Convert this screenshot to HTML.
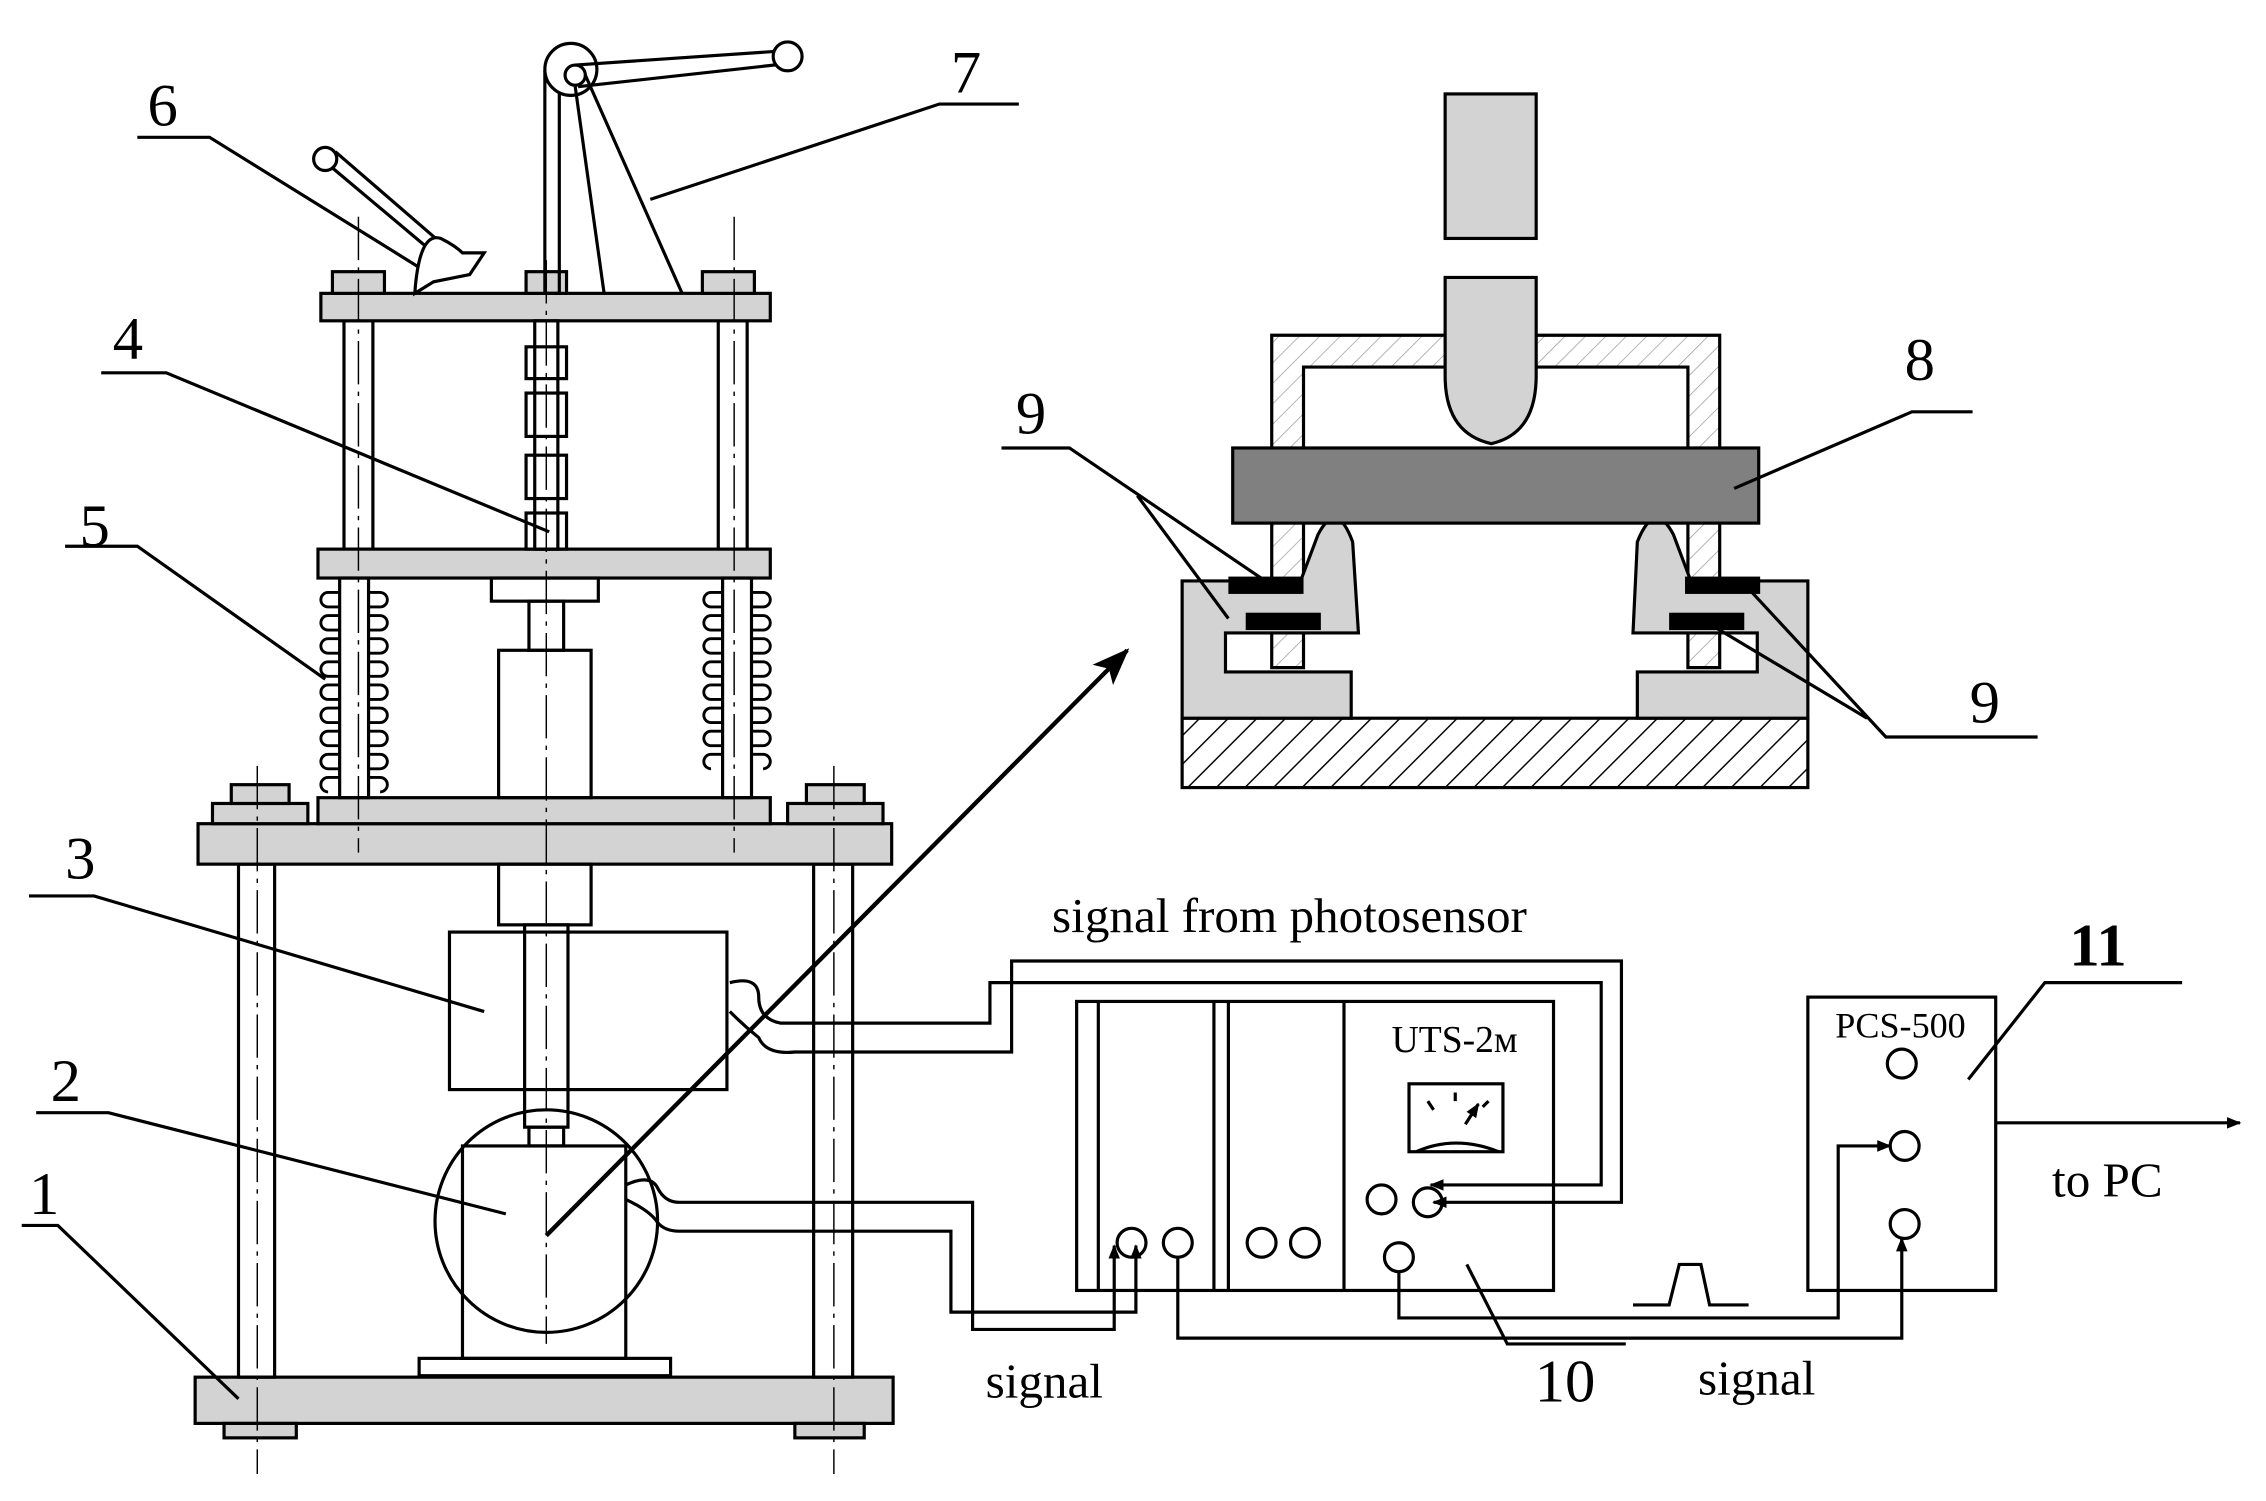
<!DOCTYPE html>
<html><head><meta charset="utf-8"><style>html,body{margin:0;padding:0;background:#fff}svg{display:block}text{font-family:"Liberation Serif",serif;fill:#000}</style></head><body>
<svg width="2266" height="1501" viewBox="0 0 1568 1038.7" xmlns="http://www.w3.org/2000/svg">
<defs>
<pattern id="h" width="14" height="14" patternUnits="userSpaceOnUse" patternTransform="rotate(45)"><rect width="14" height="14" fill="#fff"/><line x1="0" y1="0" x2="0" y2="14" stroke="#000" stroke-width="2"/></pattern>
<pattern id="hl" width="10" height="10" patternUnits="userSpaceOnUse" patternTransform="rotate(45)"><rect width="10" height="10" fill="#fff"/><line x1="0" y1="0" x2="0" y2="10" stroke="#999" stroke-width="1"/></pattern>
<marker id="a" markerWidth="10" markerHeight="10" refX="9" refY="5" orient="auto" markerUnits="userSpaceOnUse"><path d="M0,1 L10,5 L0,9 Z" fill="#000"/></marker>
<marker id="b" markerWidth="26" markerHeight="20" refX="24" refY="10" orient="auto" markerUnits="userSpaceOnUse"><path d="M0,0 L26,10 L0,20 L6,10 Z" fill="#000"/></marker>
</defs>
<g stroke="#000" stroke-width="2.2" fill="none">
<rect x="135" y="953" width="483" height="32" fill="#d3d3d3"/>
<rect x="155" y="985" width="50" height="10" fill="#d3d3d3"/>
<rect x="550" y="985" width="48" height="10" fill="#d3d3d3"/>
<rect x="165" y="598" width="25" height="355"/>
<rect x="563" y="598" width="27" height="355"/>
<rect x="137" y="570" width="480" height="28" fill="#d3d3d3"/>
<rect x="147" y="556" width="66" height="14" fill="#d3d3d3"/><rect x="160" y="543" width="40" height="13" fill="#d3d3d3"/>
<rect x="545" y="556" width="66" height="14" fill="#d3d3d3"/><rect x="558" y="543" width="40" height="13" fill="#d3d3d3"/>
<rect x="220" y="552" width="313" height="18" fill="#d3d3d3"/>
<rect x="238" y="222" width="20" height="158"/><rect x="497" y="222" width="20" height="158"/>
<rect x="220" y="380" width="313" height="20" fill="#d3d3d3"/>
<rect x="222" y="203" width="311" height="19" fill="#d3d3d3"/>
<rect x="230" y="188" width="36" height="15" fill="#d3d3d3"/><rect x="486" y="188" width="36" height="15" fill="#d3d3d3"/><rect x="364" y="188" width="28" height="15" fill="#d3d3d3"/>
<rect x="235" y="400" width="20" height="152"/><rect x="500" y="400" width="20" height="152"/>
<g stroke-width="2">
<path d="M235,410 h-8 a5,5 0 0 0 0,10 h8 m0,6 h-8 a5,5 0 0 0 0,10 h8 m0,6 h-8 a5,5 0 0 0 0,10 h8 m0,6 h-8 a5,5 0 0 0 0,10 h8 m0,6 h-8 a5,5 0 0 0 0,10 h8 m0,6 h-8 a5,5 0 0 0 0,10 h8 m0,6 h-8 a5,5 0 0 0 0,10 h8 m0,6 h-8 a5,5 0 0 0 0,10 h8 m0,6 h-8 a5,5 0 0 0 0,10"/>
<path d="M255,410 h8 a5,5 0 0 1 0,10 h-8 m0,6 h8 a5,5 0 0 1 0,10 h-8 m0,6 h8 a5,5 0 0 1 0,10 h-8 m0,6 h8 a5,5 0 0 1 0,10 h-8 m0,6 h8 a5,5 0 0 1 0,10 h-8 m0,6 h8 a5,5 0 0 1 0,10 h-8 m0,6 h8 a5,5 0 0 1 0,10 h-8 m0,6 h8 a5,5 0 0 1 0,10 h-8 m0,6 h8 a5,5 0 0 1 0,10"/>
<path d="M500,410 h-8 a5,5 0 0 0 0,10 h8 m0,6 h-8 a5,5 0 0 0 0,10 h8 m0,6 h-8 a5,5 0 0 0 0,10 h8 m0,6 h-8 a5,5 0 0 0 0,10 h8 m0,6 h-8 a5,5 0 0 0 0,10 h8 m0,6 h-8 a5,5 0 0 0 0,10 h8 m0,6 h-8 a5,5 0 0 0 0,10 h8 m0,6 h-8 a5,5 0 0 0 0,10"/>
<path d="M520,410 h8 a5,5 0 0 1 0,10 h-8 m0,6 h8 a5,5 0 0 1 0,10 h-8 m0,6 h8 a5,5 0 0 1 0,10 h-8 m0,6 h8 a5,5 0 0 1 0,10 h-8 m0,6 h8 a5,5 0 0 1 0,10 h-8 m0,6 h8 a5,5 0 0 1 0,10 h-8 m0,6 h8 a5,5 0 0 1 0,10 h-8 m0,6 h8 a5,5 0 0 1 0,10"/>
</g>
<rect x="370" y="222" width="16" height="158"/>
<rect x="364" y="240" width="28" height="22"/><rect x="364" y="272" width="28" height="30"/><rect x="364" y="315" width="28" height="30"/><rect x="364" y="355" width="28" height="25"/>
<rect x="340" y="400" width="74" height="16"/>
<rect x="366" y="416" width="24" height="34"/>
<rect x="345" y="450" width="64" height="102"/>
<rect x="345" y="598" width="64" height="42"/>
<rect x="311" y="645" width="192" height="109"/>
<rect x="363" y="640" width="30" height="140"/>
<rect x="366" y="780" width="24" height="13"/>
<rect x="320" y="793" width="113" height="147"/>
<rect x="290" y="940" width="174" height="12"/>
<circle cx="378" cy="845" r="77"/>
<rect x="377" y="50" width="10" height="153"/>
<circle cx="395" cy="48" r="18" fill="#fff"/><circle cx="398" cy="52" r="7"/>
<path d="M398,45 L545,35 L545,44 L400,60"/><circle cx="545" cy="39" r="10" fill="#fff"/>
<path d="M398,60 L418,203 M405,52 L472,203"/>
<path d="M225,112 L300,175 M232,105 L305,168"/><circle cx="225" cy="110" r="8" fill="#fff"/>
<path d="M287,203 Q290,160 305,165 Q315,170 320,175 L335,175 L325,190 L300,195 Z" fill="#fff"/>
<g stroke-width="1" stroke-dasharray="30,5,3,5">
<line x1="378" y1="180" x2="378" y2="930"/><line x1="248" y1="150" x2="248" y2="590"/><line x1="508" y1="150" x2="508" y2="590"/>
<line x1="178" y1="530" x2="178" y2="1020"/><line x1="577" y1="530" x2="577" y2="1020"/>
</g>
<path d="M95,95 L145,95 L290,185 M705,72 L650,72 L450,138 M70,258 L115,258 L380,368 M45,378 L95,378 L225,470 M20,620 L65,620 L335,700 M25,770 L75,770 L350,840 M15,848 L40,848 L165,968"/>
<path d="M378,855 L780,450" marker-end="url(#b)" stroke-width="3"/>
<rect x="1000" y="65" width="63" height="100" fill="#d3d3d3"/>
<rect x="818" y="497" width="433" height="48" fill="url(#h)"/>
<path d="M880,232 H1190 V462 H1168 V254 H902 V462 H880 Z" fill="url(#hl)"/>
<path d="M818,402 H900 L912,370 Q925,345 936,375 L940,438 H848 V465 H935 V497 H818 Z" fill="#d3d3d3"/>
<path d="M1251,402 H1170 L1158,370 Q1145,345 1133,375 L1130,438 H1216 V465 H1133 V497 H1251 Z" fill="#d3d3d3"/>
<rect x="853" y="310" width="364" height="52" fill="#808080"/>
<path d="M1000,192 H1063 V260 Q1063,300 1032,307 Q1000,300 1000,260 Z" fill="#d3d3d3"/>
<g fill="#000" stroke="none"><rect x="850" y="399" width="52" height="12"/><rect x="862" y="424" width="52" height="12"/><rect x="1166" y="399" width="52" height="12"/><rect x="1155" y="424" width="52" height="12"/></g>
<path d="M693,310 L740,310 L880,405 M787,343 L850,428 M1410,510 L1305,510 L1205,402 M1292,497 L1180,430 M1365,285 L1323,285 L1200,338"/>
<rect x="745" y="693" width="330" height="200"/>
<line x1="760" y1="693" x2="760" y2="893"/><line x1="840" y1="693" x2="840" y2="893"/><line x1="850" y1="693" x2="850" y2="893"/><line x1="930" y1="693" x2="930" y2="893"/>
<rect x="975" y="750" width="65" height="47"/>
<path d="M980,797 Q1007,785 1037,797 M988,762 L992,768 M1007,756 L1007,762 M1030,762 L1026,766"/>
<path d="M1014,778 L1023,764" marker-end="url(#a)"/>
<circle cx="956" cy="830" r="10"/><circle cx="988" cy="832" r="10"/><circle cx="968" cy="870" r="10"/>
<circle cx="783" cy="860" r="10"/><circle cx="815" cy="860" r="10"/><circle cx="873" cy="860" r="10"/><circle cx="903" cy="860" r="10"/>
<rect x="1251" y="690" width="130" height="203"/>
<circle cx="1316" cy="736" r="10"/><circle cx="1318" cy="793" r="10"/><circle cx="1318" cy="847" r="10"/>
<path d="M1381,777 H1550" marker-end="url(#a)"/>
<path d="M1362,747 L1415,680 L1510,680 M1015,875 L1043,930 L1125,930 M1130,903 H1155 L1162,875 H1177 L1183,903 H1210"/>
<path d="M505,680 Q525,675 525,690 Q525,705 540,708 H685 V680 H1108 V820 H990" marker-end="url(#a)"/>
<path d="M505,700 Q515,710 525,718 Q530,730 550,728 H700 V665 H1122 V832 H992" marker-end="url(#a)"/>
<path d="M433,820 Q450,812 455,822 Q460,832 470,832 H673 V920 H771 V862" marker-end="url(#a)"/>
<path d="M433,830 Q450,838 455,846 Q460,852 470,852 H658 V908 H786 V862" marker-end="url(#a)"/>
<path d="M815,870 V926 H1316 V857" marker-end="url(#a)"/>
<path d="M968,880 V912 H1272 V793 H1308" marker-end="url(#a)"/>
</g>
<g font-size="42">
<text x="102" y="87">6</text><text x="658" y="64">7</text><text x="78" y="248">4</text><text x="55" y="378">5</text>
<text x="45" y="608">3</text><text x="35" y="762">2</text><text x="20" y="840">1</text>
<text x="1318" y="263">8</text><text x="703" y="300">9</text><text x="1363" y="500">9</text>
<text x="1062" y="970">10</text><text x="1432" y="668" font-weight="bold">11</text>
</g>
<g font-size="34">
<text x="728" y="645">signal from photosensor</text>
<text x="682" y="967">signal</text><text x="1175" y="965">signal</text><text x="1420" y="828">to PC</text>
</g>
<text x="963" y="728" font-size="26">UTS-2м</text>
<text x="1270" y="718" font-size="25">PCS-500</text>
</svg>
</body></html>
